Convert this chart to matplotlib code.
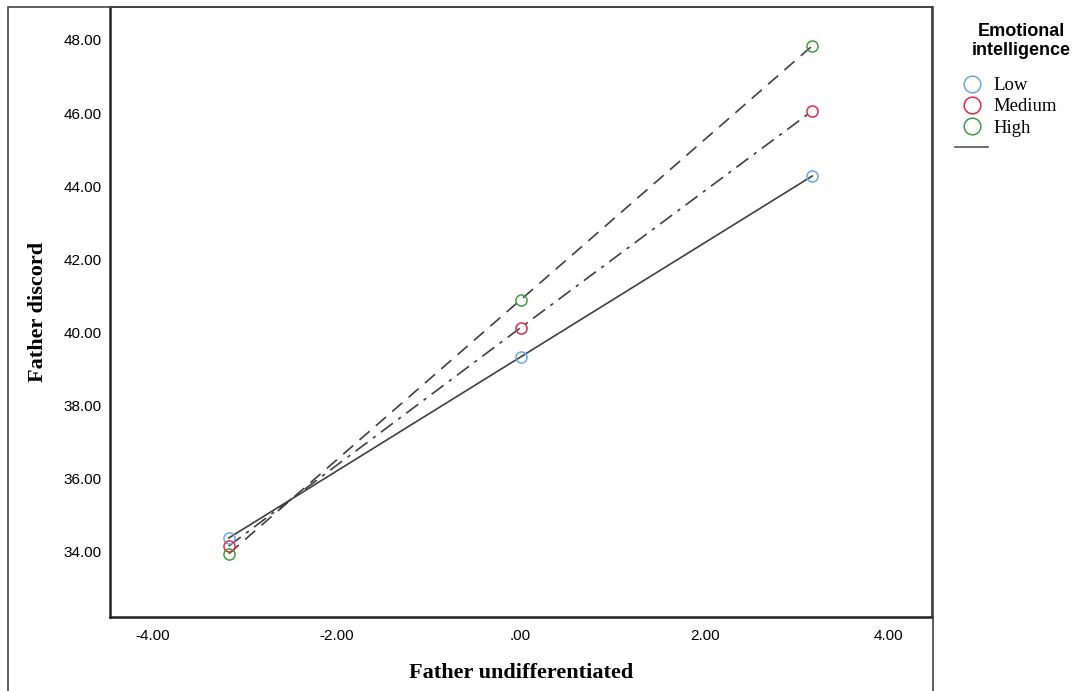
import matplotlib
matplotlib.use("Agg")
import matplotlib.pyplot as plt
from matplotlib.lines import Line2D
from matplotlib.patches import Rectangle

# data
x_vals = [-3.17, 0.0, 3.17]
low = [34.38, 39.33, 44.28]
medium = [34.16, 40.13, 46.06]
high = [33.95, 40.89, 47.84]
group_names = ["Low", "Medium", "High"]
x_ticks = [-4, -2, 0, 2, 4]
x_ticklabels = ["-4.00", "-2.00", ".00", "2.00", "4.00"]
y_ticks = [34, 36, 38, 40, 42, 44, 46, 48]

colors = ["#6aa6e8", "#e5284f", "#3f9f3f"]
line_color = "#404040"
styles = ["-", (0, (9, 4, 2, 4)), (0, (8, 5))]

W, H = 1073, 691
fig = plt.figure(figsize=(W / 100, H / 100), dpi=100)
ax = fig.add_axes([110 / W, 1 - 617 / H, (932 - 110) / W, (617 - 7) / H])

series = [low, medium, high]
for vals, col, ls in zip(series, colors, styles):
    ax.plot(x_vals, vals, color=line_color, linestyle=ls, linewidth=1.2, zorder=2)
    ax.plot(x_vals, vals, linestyle="none", marker="o", markersize=8,
            markerfacecolor="none", markeredgecolor=col, markeredgewidth=1.1, zorder=3)

ax.set_xlim(-4.46, 4.47)
ax.set_ylim(32.22, 48.90)
ax.set_xticks(x_ticks)
ax.set_xticklabels(x_ticklabels)
ax.set_yticks(y_ticks)
ax.set_yticklabels(["%.2f" % v for v in y_ticks])
ax.tick_params(length=0, labelsize=11)
ax.tick_params(axis="x", pad=9)
ax.tick_params(axis="y", pad=6)
for lab in ax.get_xticklabels() + ax.get_yticklabels():
    lab.set_fontfamily("Liberation Sans")

for side in ["left", "bottom"]:
    ax.spines[side].set_linewidth(1.8)
    ax.spines[side].set_color("#222222")
for side in ["top", "right"]:
    ax.spines[side].set_linewidth(1.2)
    ax.spines[side].set_color("#333333")

ax.set_xlabel("Father undifferentiated", fontfamily="Liberation Serif",
              fontweight="bold", fontsize=16, labelpad=14)
ax.set_ylabel("Father discord", fontfamily="Liberation Serif",
              fontweight="bold", fontsize=16, labelpad=11)

# outer chart frame
fig.patches.append(Rectangle((8 / W, -0.01), (933 - 8) / W, 1 - 7 / H + 0.01,
                             transform=fig.transFigure, fill=False,
                             edgecolor="#444444", linewidth=1.2))

# legend title
fig.text(1021 / W, 1 - 41 / H, "Emotional\nintelligence", ha="center", va="center",
         multialignment="center", fontfamily="Liberation Sans", fontweight="bold",
         fontsize=13, linespacing=1.12)

# legend entries
handles = [Line2D([], [], linestyle="none", marker="o", markersize=12,
                  markerfacecolor="none", markeredgecolor=c, markeredgewidth=1.1)
           for c in colors]
handles.append(Line2D([], [], color="#555555", linewidth=1.2))
leg = fig.legend(handles, group_names + [""], loc="upper left",
                 bbox_to_anchor=(955 / W, 1 - 77 / H), frameon=False,
                 prop={"family": "Liberation Serif", "size": 13.5},
                 handlelength=1.76, handletextpad=0.27, labelspacing=0.22,
                 borderaxespad=0, borderpad=0)

fig.savefig("out.png", dpi=100)
